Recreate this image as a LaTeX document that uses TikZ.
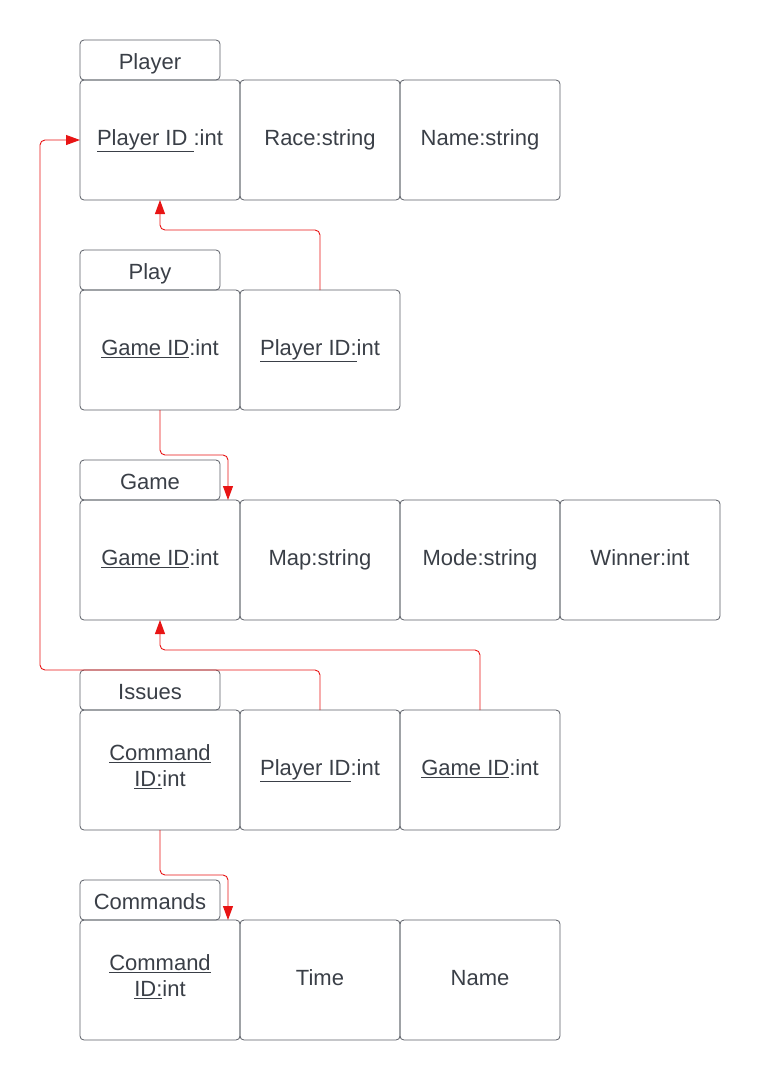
\documentclass[tikz,border=0pt]{standalone}
\usepackage{fontspec}
\setmainfont{Liberation Sans}
\usepackage{xcolor}
\usepackage{tikz}
\usetikzlibrary{positioning,arrows.meta}
\definecolor{inkgray}{HTML}{3A3F47}
\definecolor{boxgray}{HTML}{5A5E66}
\definecolor{keyred}{HTML}{E81414}

\begin{document}
\begin{tikzpicture}[x=1pt, y=-1pt,
  every node/.style={font=\fontsize{22}{26}\selectfont, text=inkgray, align=center},
  title/.style={draw=boxgray, line width=0.8pt, rounded corners=4pt, minimum width=140pt, minimum height=40pt, inner sep=0pt, outer sep=0pt, text height=21pt, text depth=2pt},
  cell/.style={draw=boxgray, line width=0.8pt, rounded corners=4pt, minimum width=160pt, minimum height=120pt, inner sep=0pt, outer sep=0pt, text height=16pt, text depth=5pt},
  fk/.style={draw=keyred, line width=0.9pt, rounded corners=5pt, -{Triangle[length=14pt,width=10pt]}, color=keyred}]
\useasboundingbox (0,0) rectangle (761,1080);

% Player
\node[title] (playert) at (150,60) {Player};
\node[cell] (pid) at (160,140) {\underline{Player ID\ }:int};
\node[cell, right=0pt of pid] (prace) {Race:string};
\node[cell, right=0pt of prace] (pname) {Name:string};

% Play
\node[title] (playt) at (150,270) {Play};
\node[cell] (playgid) at (160,350) {\underline{Game ID}:int};
\node[cell, right=0pt of playgid] (playpid) {\underline{Player ID:}int};

% Game
\node[title] (gamet) at (150,480) {Game};
\node[cell] (gamegid) at (160,560) {\underline{Game ID}:int};
\node[cell, right=0pt of gamegid] (gmap) {Map:string};
\node[cell, right=0pt of gmap] (gmode) {Mode:string};
\node[cell, right=0pt of gmode] (gwin) {Winner:int};

% Issues
\node[title] (isst) at (150,690) {Issues};
\node[cell] (isscid) at (160,770) {};
\node at (isscid) [yshift=3pt] {\underline{Command}\\\underline{ID:}int};
\node[cell, right=0pt of isscid] (isspid) {\underline{Player ID}:int};
\node[cell, right=0pt of isspid] (issgid) {\underline{Game ID}:int};

% Commands
\node[title] (cmdt) at (150,900) {Commands};
\node[cell] (cmdcid) at (160,980) {};
\node at (cmdcid) [yshift=3pt] {\underline{Command}\\\underline{ID:}int};
\node[cell, right=0pt of cmdcid] (ctime) {Time};
\node[cell, right=0pt of ctime] (cname) {Name};

% foreign keys
\draw[fk] (playpid.north) -- ++(0,-60) -| (pid.south);
\draw[fk] (playgid.south) -- ++(0,45) -| ([xshift=-12pt]gamegid.north east);
\draw[fk] (isspid.north) -- ++(0,-40) -| ([xshift=-40pt]pid.west) -- (pid.west);
\draw[fk] (issgid.north) -- ++(0,-60) -| (gamegid.south);
\draw[fk] (isscid.south) -- ++(0,45) -| ([xshift=-12pt]cmdcid.north east);
\end{tikzpicture}
\end{document}
